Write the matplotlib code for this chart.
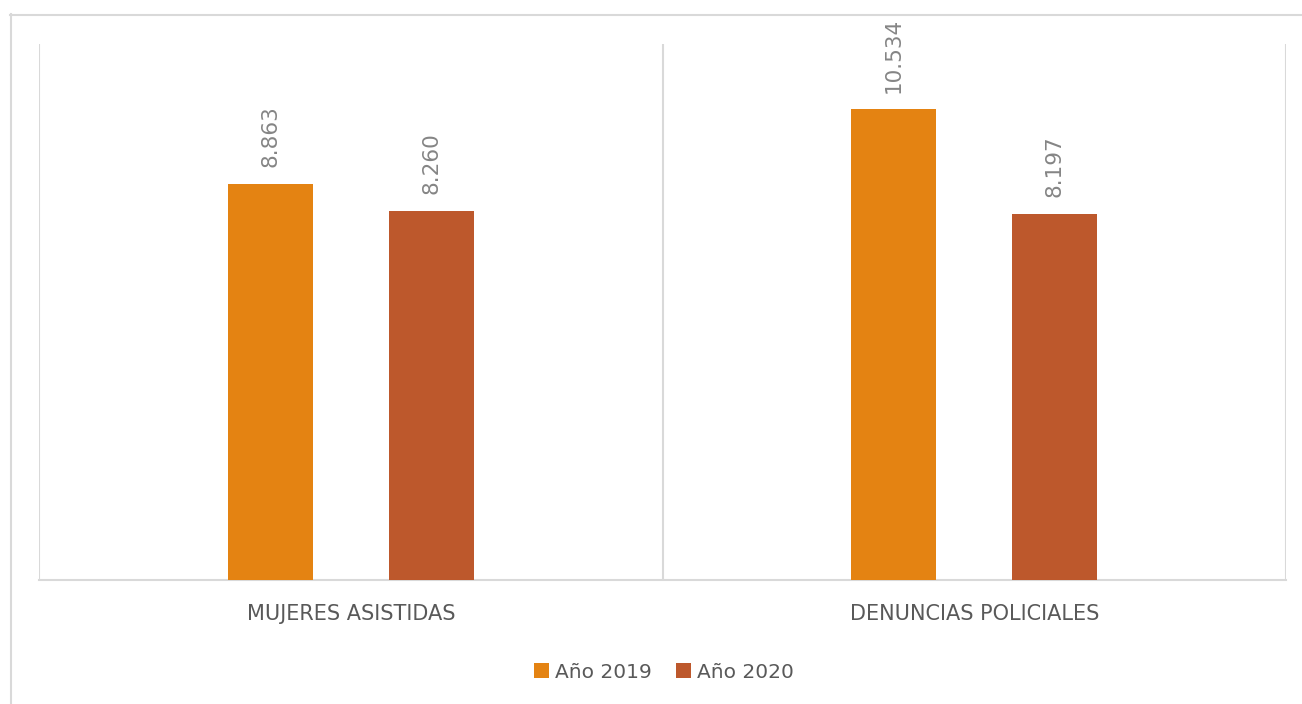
import matplotlib
matplotlib.use("Agg")
import matplotlib.pyplot as plt
from matplotlib.lines import Line2D
import numpy as np

categories = ["MUJERES ASISTIDAS", "DENUNCIAS POLICIALES"]
series_names = ["Año 2019", "Año 2020"]
values_2019 = [8863, 10534]
values_2020 = [8260, 8197]

colors = ["#E48312", "#BD582C"]
grid_color = "#D9D9D9"
text_color = "#595959"
label_color = "#858585"

W, H = 1302, 704
fig = plt.figure(figsize=(W / 100, H / 100), dpi=100)
ax = fig.add_axes([39 / W, (H - 580) / H, (1286 - 39) / W, (580 - 44) / H])

x = np.arange(len(categories))
offset = 0.129
width = 0.136
for vals, name, col, sgn in [(values_2019, series_names[0], colors[0], -1),
                             (values_2020, series_names[1], colors[1], 1)]:
    bars = ax.bar(x + sgn * offset, vals, width, color=col, label=name, zorder=3)
    for b, v in zip(bars, vals):
        ax.annotate(f"{v:,}".replace(",", "."),
                    (b.get_x() + b.get_width() / 2, b.get_height()),
                    xytext=(0, 12), textcoords="offset points",
                    rotation=90, ha="center", va="bottom",
                    fontsize=15.5, color=label_color)

ax.set_xlim(-0.5, len(categories) - 0.5)
ax.set_ylim(0, 12000)

# category separators
for xb in np.arange(-0.5, len(categories), 1.0):
    ax.axvline(xb, color=grid_color, lw=1.5, zorder=1)

for s in ["left", "right", "top"]:
    ax.spines[s].set_visible(False)
ax.spines["bottom"].set_color(grid_color)
ax.spines["bottom"].set_linewidth(1.5)

ax.set_yticks([])
ax.set_xticks(x)
ax.set_xticklabels(categories, fontsize=15, color=text_color)
ax.tick_params(axis="x", length=0, pad=17)

leg = fig.legend(loc="center", bbox_to_anchor=(0.51, 0.045), ncol=2, frameon=False,
                 fontsize=14.5, handlelength=0.75, handleheight=0.75,
                 handletextpad=0.3, columnspacing=1.2)
for t in leg.get_texts():
    t.set_color(text_color)

# outer chart border
fig.add_artist(Line2D([10.5 / W, 10.5 / W], [0, (H - 14) / H], color=grid_color, lw=1.5))
fig.add_artist(Line2D([10 / W, 1], [(H - 14.5) / H, (H - 14.5) / H], color=grid_color, lw=1.5))

fig.savefig("out.png", dpi=100)
